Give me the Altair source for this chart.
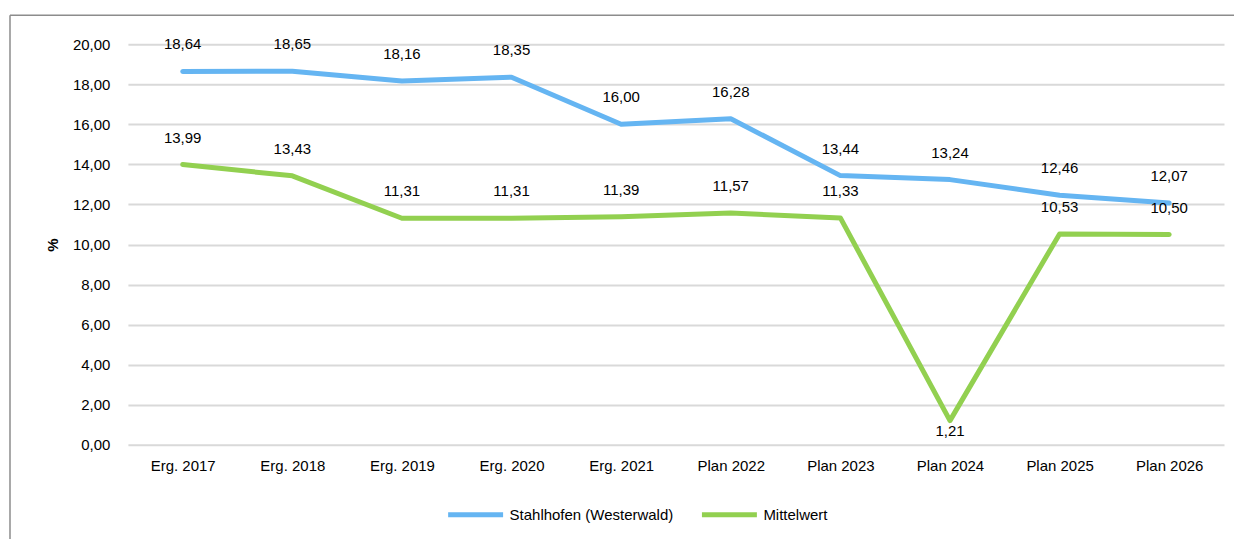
import altair as alt
import pandas as pd

categories = ["Erg. 2017", "Erg. 2018", "Erg. 2019", "Erg. 2020", "Erg. 2021",
              "Plan 2022", "Plan 2023", "Plan 2024", "Plan 2025", "Plan 2026"]
stahlhofen = [18.64, 18.65, 18.16, 18.35, 16.00, 16.28, 13.44, 13.24, 12.46, 12.07]
mittelwert = [13.99, 13.43, 11.31, 11.31, 11.39, 11.57, 11.33, 1.21, 10.53, 10.50]
series_names = ["Stahlhofen (Westerwald)", "Mittelwert"]
colors = ["#65b5f2", "#92d050"]
# label placement: "above" or "below" the point
mittel_pos = ["above"] * 7 + ["below"] + ["above"] * 2

rows = []
for i, c in enumerate(categories):
    rows.append({"cat": c, "series": series_names[0], "v": stahlhofen[i], "pos": "above"})
    rows.append({"cat": c, "series": series_names[1], "v": mittelwert[i], "pos": mittel_pos[i]})
df = pd.DataFrame(rows)

FONT = "Liberation Sans"
FS = 15

x = alt.X("cat:N", sort=categories, scale=alt.Scale(type="point", padding=0.5),
          axis=alt.Axis(title=None, domain=False, ticks=False, grid=False,
                        labelAngle=0, labelPadding=14, labelFontSize=FS,
                        labelColor="#000000", labelFont=FONT))
y = alt.Y("v:Q", scale=alt.Scale(domain=[0, 20], nice=False),
          axis=alt.Axis(title="%", titleFontSize=FS, titleFont=FONT, titleColor="#000000",
                        titleFontWeight="bold", titlePadding=12,
                        values=list(range(0, 21, 2)),
                        labelExpr="replace(format(datum.value, '.2f'), '.', ',')",
                        domain=False, ticks=False, labelPadding=18, labelFontSize=FS,
                        labelColor="#000000", labelFont=FONT,
                        gridColor="#d9d9d9", gridWidth=2))
color = alt.Color("series:N", scale=alt.Scale(domain=series_names, range=colors),
                  legend=alt.Legend(title=None, orient="none", direction="horizontal",
                                    legendX=318, legendY=441,
                                    symbolType="stroke", symbolSize=3025,
                                    symbolStrokeWidth=5, labelFontSize=FS,
                                    labelFont=FONT, labelColor="#000000",
                                    labelLimit=400,
                                    columnPadding=18, labelOffset=4))

base = alt.Chart(df)

lines = base.mark_line(strokeWidth=5, strokeCap="round", strokeJoin="round").encode(
    x=x, y=y, color=color)

label_calc = "replace(format(datum.v, '.2f'), '.', ',')"
above = base.transform_filter("datum.pos == 'above'").transform_calculate(
    lab=label_calc).mark_text(dy=-27, fontSize=FS, font=FONT, color="#000000").encode(
    x=x, y=y, text="lab:N")
below = base.transform_filter("datum.pos == 'below'").transform_calculate(
    lab=label_calc).mark_text(dy=10, fontSize=FS, font=FONT, color="#000000").encode(
    x=x, y=y, text="lab:N")

frame_left = alt.Chart(pd.DataFrame({"a": [0]})).mark_rule(
    color="#8c8c8c", strokeWidth=1.5).encode(
    x=alt.value(-118), y=alt.value(-29), y2=alt.value(520))
frame_top = alt.Chart(pd.DataFrame({"a": [0]})).mark_rule(
    color="#8c8c8c", strokeWidth=1.5).encode(
    x=alt.value(-118), x2=alt.value(1120), y=alt.value(-29))

chart = alt.layer(lines, above, below, frame_left, frame_top).properties(
    width=1097, height=401,
    padding={"left": 120, "top": 36, "right": 10, "bottom": 100},
    autosize=alt.AutoSizeParams(type="none"),
).configure_view(stroke=None)

chart.save("out.html", embed_options={"renderer": "svg", "actions": False})
